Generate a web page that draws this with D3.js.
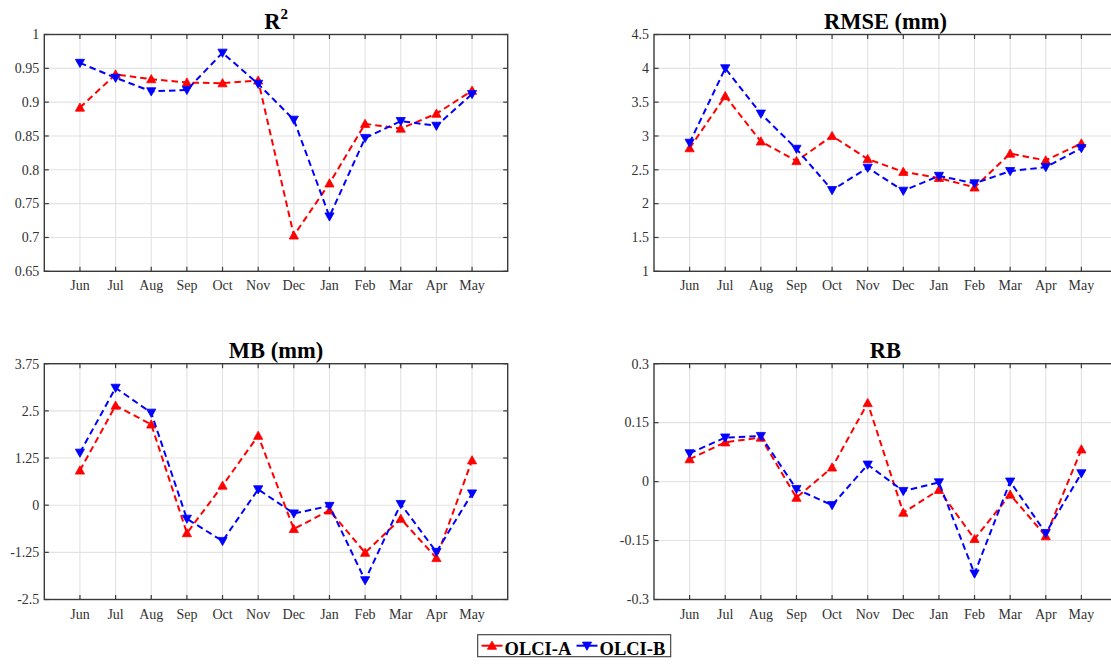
<!DOCTYPE html>
<html>
<head>
<meta charset="utf-8">
<script src="https://cdn.jsdelivr.net/npm/d3@7"></script>
<style>
  body { margin: 0; background: #fff; }
  svg { display: block; }
</style>
</head>
<body>
<svg id="chart" width="1111" height="664"></svg>
<script>
// Monthly validation statistics for OLCI-A and OLCI-B
const months = ["Jun", "Jul", "Aug", "Sep", "Oct", "Nov", "Dec", "Jan", "Feb", "Mar", "Apr", "May"];
const seriesNames = ["OLCI-A", "OLCI-B"];

const r2A = [0.892, 0.941, 0.934, 0.929, 0.928, 0.932, 0.703, 0.780, 0.868, 0.861, 0.883, 0.917];
const r2B = [0.958, 0.936, 0.916, 0.918, 0.973, 0.927, 0.874, 0.731, 0.847, 0.872, 0.865, 0.912];

const rmseA = [2.82, 3.59, 2.92, 2.63, 3.00, 2.66, 2.47, 2.38, 2.24, 2.74, 2.64, 2.89];
const rmseB = [2.90, 4.00, 3.33, 2.81, 2.20, 2.53, 2.19, 2.41, 2.30, 2.48, 2.54, 2.82];

const mbA = [0.92, 2.64, 2.14, -0.74, 0.52, 1.84, -0.63, -0.14, -1.26, -0.36, -1.40, 1.19];
const mbB = [1.39, 3.11, 2.45, -0.36, -0.95, 0.42, -0.22, -0.02, -1.99, 0.03, -1.24, 0.31];

const rbA = [0.057, 0.100, 0.112, -0.041, 0.036, 0.200, -0.079, -0.021, -0.146, -0.033, -0.139, 0.082];
const rbB = [0.072, 0.112, 0.116, -0.019, -0.060, 0.043, -0.024, -0.002, -0.234, 0.000, -0.131, 0.021];

const r2Ticks = ["0.65", "0.7", "0.75", "0.8", "0.85", "0.9", "0.95", "1"];
const rmseTicks = ["1", "1.5", "2", "2.5", "3", "3.5", "4", "4.5"];
const mbTicks = ["-2.5", "-1.25", "0", "1.25", "2.5", "3.75"];
const rbTicks = ["-0.3", "-0.15", "0", "0.15", "0.3"];

const colors = ["#ff0000", "#0000ff"];
const serif = "'Liberation Serif', 'Times New Roman', serif";
const axisColor = "#3a3a3a";

const svg = d3.select("#chart");

// Panel frames (left, top, right, bottom); the right column runs past the page edge
const panels = [
  { title: "R", sup: "2", a: r2A, b: r2B, ticks: r2Ticks, box: [44.3, 34.5, 507.7, 271.3] },
  { title: "RMSE (mm)", a: rmseA, b: rmseB, ticks: rmseTicks, box: [654, 34.5, 1117, 271.3] },
  { title: "MB (mm)", a: mbA, b: mbB, ticks: mbTicks, box: [44.3, 363.7, 507.7, 599.5] },
  { title: "RB", a: rbA, b: rbB, ticks: rbTicks, box: [654, 363.7, 1117, 599.5] }
];

// Filled triangle markers: up for OLCI-A, down for OLCI-B
function triangle(up) {
  const w = 4.6, t = 4.6, btm = 3.6;
  return up
    ? `M0,${-t}L${w},${btm}L${-w},${btm}Z`
    : `M0,${t}L${w},${-btm}L${-w},${-btm}Z`;
}

panels.forEach(p => {
  const [x0, y0, x1, y1] = p.box;
  const tickVals = p.ticks.map(Number);
  const x = d3.scaleLinear().domain([0, months.length + 1]).range([x0, x1]);
  const y = d3.scaleLinear().domain([tickVals[0], tickVals[tickVals.length - 1]]).range([y1, y0]);
  const g = svg.append("g");

  // grid
  g.selectAll(".gx").data(months).enter().append("line")
    .attr("x1", (d, i) => x(i + 1)).attr("x2", (d, i) => x(i + 1))
    .attr("y1", y0).attr("y2", y1)
    .attr("stroke", "#e2e2e2").attr("stroke-width", 1.1);
  g.selectAll(".gy").data(tickVals).enter().append("line")
    .attr("x1", x0).attr("x2", x1)
    .attr("y1", d => y(d)).attr("y2", d => y(d))
    .attr("stroke", "#e2e2e2").attr("stroke-width", 1.1);

  // series
  [p.a, p.b].forEach((vals, s) => {
    const line = d3.line().x((d, i) => x(i + 1)).y(d => y(d));
    g.append("path").datum(vals)
      .attr("d", line)
      .attr("fill", "none")
      .attr("stroke", colors[s])
      .attr("stroke-width", 2)
      .attr("stroke-dasharray", "6.5,4");
    g.selectAll(".m" + s).data(vals).enter().append("path")
      .attr("d", triangle(s === 0))
      .attr("transform", (d, i) => `translate(${x(i + 1)},${y(d)})`)
      .attr("fill", colors[s])
      .attr("stroke", colors[s])
      .attr("stroke-width", 0.8);
  });

  // axes box with inward ticks on all four sides
  const tl = 4.5;
  g.append("rect")
    .attr("x", x0).attr("y", y0).attr("width", x1 - x0).attr("height", y1 - y0)
    .attr("fill", "none").attr("stroke", axisColor).attr("stroke-width", 1.4);
  months.forEach((m, i) => {
    const xx = x(i + 1);
    g.append("line").attr("x1", xx).attr("x2", xx).attr("y1", y1).attr("y2", y1 - tl)
      .attr("stroke", axisColor).attr("stroke-width", 1.2);
    g.append("line").attr("x1", xx).attr("x2", xx).attr("y1", y0).attr("y2", y0 + tl)
      .attr("stroke", axisColor).attr("stroke-width", 1.2);
  });
  tickVals.forEach(v => {
    const yy = y(v);
    g.append("line").attr("x1", x0).attr("x2", x0 + tl).attr("y1", yy).attr("y2", yy)
      .attr("stroke", axisColor).attr("stroke-width", 1.2);
    g.append("line").attr("x1", x1).attr("x2", x1 - tl).attr("y1", yy).attr("y2", yy)
      .attr("stroke", axisColor).attr("stroke-width", 1.2);
  });

  // tick labels
  g.selectAll(".xl").data(months).enter().append("text")
    .attr("x", (d, i) => x(i + 1)).attr("y", y1 + 19)
    .attr("text-anchor", "middle")
    .attr("font-family", serif).attr("font-size", 14).attr("fill", "#333")
    .text(d => d);
  g.selectAll(".yl").data(p.ticks).enter().append("text")
    .attr("x", x0 - 5).attr("y", d => y(+d) + 4.8)
    .attr("text-anchor", "end")
    .attr("font-family", serif).attr("font-size", 14).attr("fill", "#333")
    .text(d => d);

  // title
  const t = g.append("text")
    .attr("x", (x0 + x1) / 2).attr("y", y0 - 5.5)
    .attr("text-anchor", "middle")
    .attr("font-family", serif).attr("font-size", 22.5).attr("font-weight", "bold")
    .attr("fill", "#000");
  t.append("tspan").text(p.title);
  if (p.sup) {
    t.append("tspan").attr("font-size", 15).attr("dy", -10).text(p.sup);
  }
});

// legend
const lg = svg.append("g");
lg.append("rect")
  .attr("x", 477.7).attr("y", 634.7).attr("width", 193).attr("height", 22)
  .attr("fill", "#fff").attr("stroke", axisColor).attr("stroke-width", 1.1);
const legendX = [481.5, 576.5];
seriesNames.forEach((name, s) => {
  const lx = legendX[s];
  lg.append("line").attr("x1", lx).attr("x2", lx + 21).attr("y1", 645.7).attr("y2", 645.7)
    .attr("stroke", colors[s]).attr("stroke-width", 2);
  lg.append("path").attr("d", triangle(s === 0))
    .attr("transform", `translate(${lx + 10.5},645.7)`)
    .attr("fill", colors[s]).attr("stroke", colors[s]).attr("stroke-width", 0.8);
  lg.append("text").attr("x", lx + 23).attr("y", 654.5)
    .attr("font-family", serif).attr("font-size", 18.5).attr("font-weight", "bold")
    .attr("fill", "#000").text(name);
});
</script>
</body>
</html>
